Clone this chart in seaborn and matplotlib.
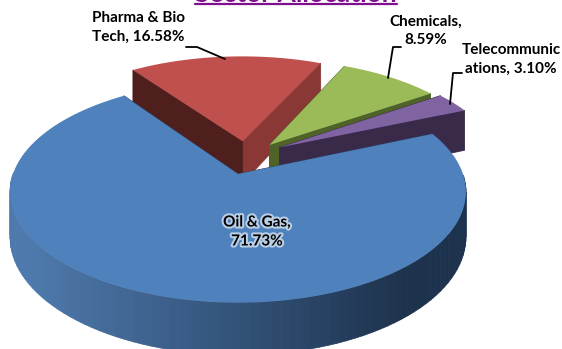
import numpy as np
import matplotlib
matplotlib.use("Agg")
import matplotlib.pyplot as plt
import matplotlib.patheffects as pe
from matplotlib.colors import to_rgb
import seaborn as sns

sectors = ["Oil & Gas", "Telecommunications", "Chemicals", "Pharma & Bio Tech"]
shares = [71.73, 3.10, 8.59, 16.58]
explode_amt = [0.0, 0.22, 0.25, 0.26]
nudge_u = [0.0, 0.0, -0.015, 0.045]
nudge_v = [0.0, 0.15, 0.09, 0.06]
top_colors = ["#4F81BD", "#8064A2", "#9BBB59", "#C0504D"]
cut_a = ["#2a4364", "#3A2A4A", "#4F6228", "#8A3836"]
cut_b = ["#2a4364", "#3A2A4A", "#4F6228", "#4F1F1D"]

sns.set_theme(style="white")
plt.rcParams["font.family"] = ["Lato", "DejaVu Sans"]

W, H = 562, 349
fig = plt.figure(figsize=(W / 100, H / 100), dpi=100)
ax = fig.add_axes([0, 0, 1, 1])

wedges, _ = ax.pie(shares, explode=explode_amt, startangle=125, counterclock=True,
                   colors=top_colors, normalize=True)
info = [((w.center[0] + a, w.center[1] + b), w.theta1, w.theta2)
        for w, a, b in zip(wedges, nudge_u, nudge_v)]
for w in wedges:
    w.remove()

ax.set_aspect("auto")
ax.set_xlim(0, W)
ax.set_ylim(H, 0)
ax.axis("off")

CX, CY, RX, RY, K, T = 238, 174, 225, 108, 0.16, 44


def proj(u, v, z=0.0):
    s = 1 / (1 + K * np.asarray(v))
    return CX + RX * np.asarray(u) * s, CY - RY * np.asarray(v) * s + z * T * s


def outline(c, t1, t2, n=120):
    a = np.radians(np.linspace(t1, t2, n))
    return c[0] + np.cos(a), c[1] + np.sin(a)


def quad(u0, v0, u1, v1, color, zo):
    xa, ya = proj(np.array([u0, u1]), np.array([v0, v1]), 0)
    xb, yb = proj(np.array([u1, u0]), np.array([v1, v0]), 1)
    ax.fill(np.r_[xa, xb], np.r_[ya, yb], color=color, lw=0.6, zorder=zo)


order = [3, 2, 1, 0]
left_c, right_c = np.array(to_rgb("#4d79ac")), np.array(to_rgb("#1d324d"))
for rank, i in enumerate(order):
    c, t1, t2 = info[i]
    zo = 2 + rank
    u, v = outline(c, t1, t2)
    # radial cut faces
    quad(c[0], c[1], u[0], v[0], cut_a[i], zo)
    quad(c[0], c[1], u[-1], v[-1], cut_b[i], zo)
    # outer rim of the large slice, shaded left to right
    if i == 0:
        for k in range(len(u) - 1):
            if v[k] + v[k + 1] < 2 * c[1]:
                x_mid = proj(u[k], v[k])[0]
                f = np.clip((x_mid - 30) / 370, 0, 1)
                quad(u[k], v[k], u[k + 1], v[k + 1], tuple(left_c + (right_c - left_c) * f), zo)
    px, py = proj(np.r_[c[0], u], np.r_[c[1], v])
    ax.fill(px, py, color=top_colors[i], lw=0, zorder=zo + 0.5)

# title, cropped by the top edge of the picture
ax.text(296, 2, "Sector Allocation", color="#800F8F", fontsize=19, fontweight="bold",
        ha="center", va="baseline", zorder=10)
ax.plot([195, 397], [3.5, 3.5], color="#800F8F", lw=1.6, zorder=10)

labels = [
    (138, 27.5, "Pharma & Bio\nTech, 16.58%"),
    (426, 31, "Chemicals,\n8.59%"),
    (511, 59, "Telecommunic\nations, 3.10%"),
]
for x, y, s in labels:
    ax.text(x, y, s, fontsize=11, fontweight="bold", color="black", ha="center", va="center",
            linespacing=1.45, zorder=12)
oil = ax.text(257, 232, "Oil & Gas,\n71.73%", fontsize=11, fontweight="bold", color="black",
              ha="center", va="center", linespacing=1.45, zorder=12)
oil.set_path_effects([pe.withStroke(linewidth=3, foreground="#b9cde4")])

leaders = [
    ([186, 197, 225], [47, 47, 59]),
    ([401, 393, 388], [47, 47, 78]),
    ([462, 453, 450], [73, 73, 104]),
]
for xs, ys in leaders:
    ax.plot(xs, ys, color="black", lw=1.3, zorder=11)

sns.despine(ax=ax, left=True, bottom=True)
fig.savefig("out.png", dpi=100, facecolor="white")
